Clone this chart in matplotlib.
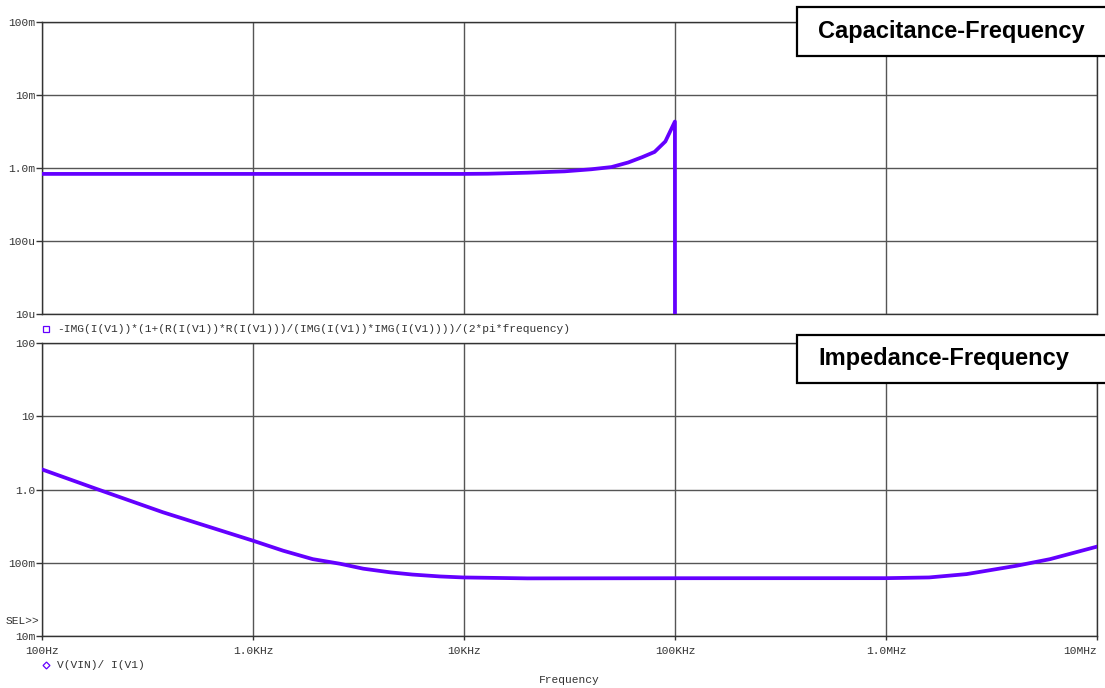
import matplotlib.pyplot as plt
from matplotlib.patches import Rectangle
from matplotlib.lines import Line2D
from matplotlib.ticker import FixedLocator, NullLocator

# capacitance curve (F) vs frequency (Hz)
cap_freq = [100, 1e3, 1e4, 13e3, 20e3, 30e3, 40e3, 50e3, 60e3, 70e3, 80e3, 90e3, 99.9e3, 100e3]
cap_vals = [0.83e-3, 0.83e-3, 0.83e-3, 0.835e-3, 0.862e-3, 0.90e-3, 0.96e-3, 1.03e-3,
            1.19e-3, 1.41e-3, 1.66e-3, 2.31e-3, 4.33e-3, 1e-7]

# impedance curve (ohm) vs frequency (Hz)
imp_freq = [100, 181, 374, 1e3, 1.39e3, 1.92e3, 2.58e3, 3.33e3, 4.47e3, 5.7e3, 7.7e3, 9.9e3,
            20e3, 100e3, 1e6, 1.6e6, 2.41e6, 4.16e6, 5.99e6, 10e6]
imp_vals = [1.88, 1.02, 0.489, 0.2, 0.146, 0.112, 0.097, 0.083, 0.074, 0.069, 0.065, 0.063,
            0.0612, 0.0615, 0.0616, 0.063, 0.070, 0.091, 0.112, 0.166]

freq_ticks = [100, 1e3, 1e4, 1e5, 1e6, 1e7]
freq_labels = ['100Hz', '1.0KHz', '10KHz', '100KHz', '1.0MHz', '10MHz']
cap_ticks = [1e-5, 1e-4, 1e-3, 1e-2, 1e-1]
cap_labels = ['10u', '100u', '1.0m', '10m', '100m']
imp_ticks = [1e-2, 1e-1, 1, 10, 100]
imp_labels = ['10m', '100m', '1.0', '10', '100']

W, H = 1105, 688
purple = '#6400ff'
grid_c = '#555555'
mono = 'Liberation Mono'
txt_c = '#333333'
fs = 8.1

fig = plt.figure(figsize=(W / 100, H / 100), dpi=100)
ax1 = fig.add_axes([42 / W, 1 - 314 / H, 1055 / W, 292 / H])
ax2 = fig.add_axes([42 / W, 1 - 636 / H, 1055 / W, 293 / H])


def style(ax, yticks, ylabels, ylim, show_x):
    ax.set_xscale('log')
    ax.set_yscale('log')
    ax.set_xlim(100, 1e7)
    ax.set_ylim(*ylim)
    ax.xaxis.set_major_locator(FixedLocator(freq_ticks))
    ax.xaxis.set_minor_locator(NullLocator())
    ax.yaxis.set_major_locator(FixedLocator(yticks))
    ax.yaxis.set_minor_locator(NullLocator())
    ax.set_yticklabels(ylabels, family=mono, fontsize=fs, color=txt_c)
    if show_x:
        ax.set_xticklabels(freq_labels, family=mono, fontsize=fs, color=txt_c)
        ax.get_xticklabels()[-1].set_horizontalalignment('right')
        ax.tick_params(axis='x', length=3, width=1, pad=4, color='#333333')
    else:
        ax.set_xticklabels([])
        ax.tick_params(axis='x', length=0)
    ax.tick_params(axis='y', length=4, width=1, pad=1, color='#333333')
    ax.grid(True, color=grid_c, linewidth=1)
    for s in ax.spines.values():
        s.set_color('#333333')
        s.set_linewidth(1)


style(ax1, cap_ticks, cap_labels, (1e-5, 1e-1), False)
style(ax2, imp_ticks, imp_labels, (1e-2, 100), True)

ax1.plot(cap_freq, cap_vals, color=purple, linewidth=2.7, zorder=3)
ax2.plot(imp_freq, imp_vals, color=purple, linewidth=2.7, zorder=3)

# trace names
fig.add_artist(Line2D([46 / W], [1 - 329 / H], marker='s', markersize=4.5, markerfacecolor='none',
                      markeredgecolor=purple, markeredgewidth=0.9, linestyle='none'))
fig.text(57 / W, 1 - 329 / H,
         '-IMG(I(V1))*(1+(R(I(V1))*R(I(V1)))/(IMG(I(V1))*IMG(I(V1))))/(2*pi*frequency)',
         family=mono, fontsize=fs, color=txt_c, va='center', ha='left')
fig.add_artist(Line2D([46 / W], [1 - 665 / H], marker='D', markersize=3.5, markerfacecolor='none',
                      markeredgecolor=purple, markeredgewidth=0.9, linestyle='none'))
fig.text(57 / W, 1 - 665 / H, 'V(VIN)/ I(V1)',
         family=mono, fontsize=fs, color=txt_c, va='center', ha='left')

fig.text(39 / W, 1 - 621 / H, 'SEL>>', family=mono, fontsize=fs, color=txt_c,
         va='center', ha='right')
fig.text(569 / W, 1 - 680 / H, 'Frequency', family=mono, fontsize=fs, color=txt_c,
         va='center', ha='center')

# title boxes
for y0, y1, label in [(7, 56, 'Capacitance-Frequency'), (335, 383, 'Impedance-Frequency')]:
    fig.add_artist(Rectangle((797 / W, 1 - y1 / H), 320 / W, (y1 - y0) / H,
                             facecolor='white', edgecolor='black', linewidth=1.6,
                             transform=fig.transFigure, zorder=10))
    fig.text(818 / W, 1 - (y0 + y1) / 2 / H, label, family='Liberation Sans', fontweight='bold',
             fontsize=17, color='black', va='center', ha='left', zorder=11)

fig.savefig('out.png', dpi=100)
